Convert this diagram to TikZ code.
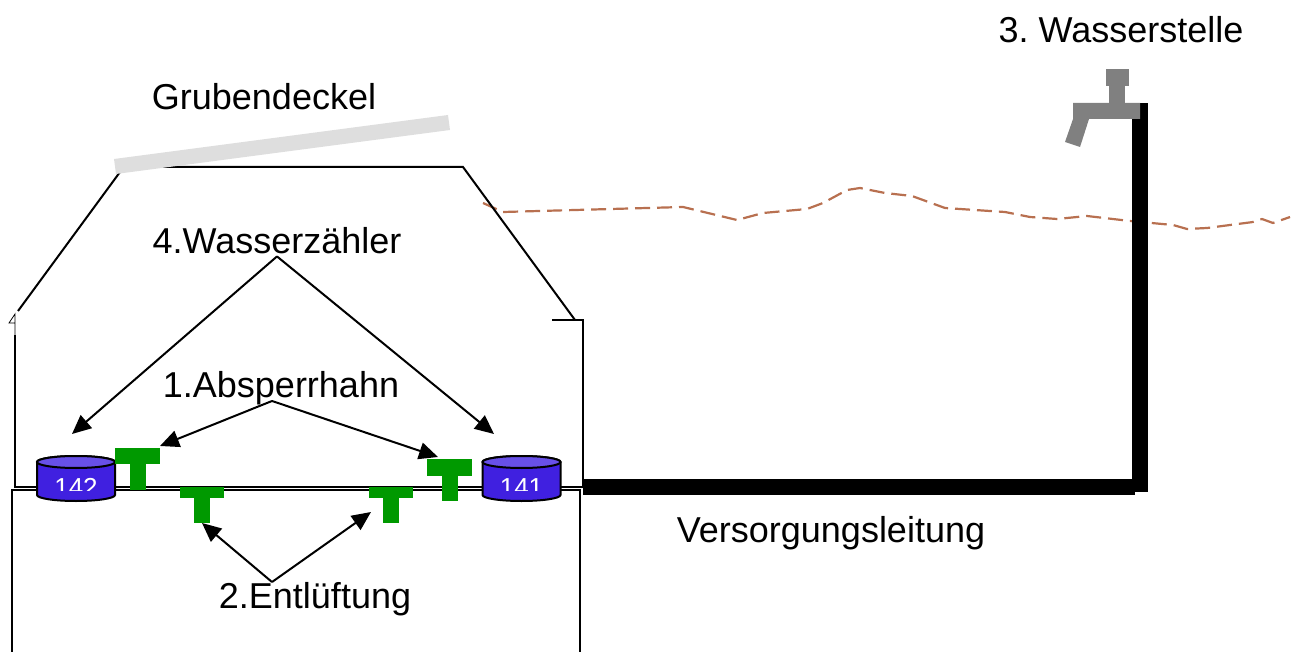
\documentclass[tikz,border=0pt]{standalone}
\usepackage{fontspec}
\setmainfont{Liberation Sans}
\usepackage{xcolor}
\usetikzlibrary{positioning,arrows.meta}
\definecolor{hahngreen}{HTML}{009900}
\definecolor{zaehlerblue}{HTML}{4020E0}
\definecolor{zaehlertop}{HTML}{6850E8}
\definecolor{erdbrown}{HTML}{B87050}
\definecolor{tapgray}{HTML}{808080}
\frenchspacing
\newcommand{\zaehlerdose}[1]{
	\draw[line width=2pt, fill=zaehlerblue] (#1-39,462)--(#1-39,495) arc[start angle=180, end angle=360, x radius=39pt, y radius=6pt]--(#1+39,462) arc[start angle=0, end angle=180, x radius=39pt, y radius=6pt]--cycle;
	\draw[line width=2pt, fill=zaehlertop] (#1,462) ellipse[x radius=39pt, y radius=6pt];
}
\tikzset{
	lab/.style={inner sep=0pt, font=\fontsize{36}{40}\selectfont},
	wall/.style={line width=2pt},
	pointer/.style={line width=2pt, -{Stealth[length=19pt,width=17pt,inset=0pt]}},
	bar/.style={fill=hahngreen, inner sep=0pt, outer sep=0pt},
	zahl/.style={text=white, inner sep=0pt, anchor=base, font=\fontsize{26}{28}\selectfont},
}
\begin{document}
\begin{tikzpicture}[x=1pt,y=-1pt]
		\useasboundingbox (0,0) rectangle (1301,652);
		\draw[erdbrown, line width=2.2pt, dash pattern=on 15pt off 7pt] (483,203)--(503,212)--(683,207)--(737,220)--(763,213)--(807,209)--(823,203)--(847,190)--(860,188)--(885,193)--(912,196)--(945,208)--(1005,212)--(1030,217)--(1057,219)--(1087,216)--(1130,221)--(1173,225)--(1187,229)--(1207,228)--(1253,222)--(1262,219)--(1273,223)--(1290,217);
		
		\draw[wall] (18,311)--(120,172);
		\draw[wall] (120,167)--(463,167)--(575,320);
		\draw[wall] (552,320)--(583,320)--(583,487)--(15,487)--(15,335);
		\draw[line width=0.8pt] (15,335)--(15,314)--(9,323)--(15,323);
		\draw[wall] (12,652)--(12,490)--(580,490)--(580,652);
		\fill[black!13] (114,159)--(448,115)--(450,130)--(116,174)--cycle;
		
		\fill[black] (583,479) rectangle (1135,495);
		\fill[black] (1132,103) rectangle (1148,492);
		\fill[tapgray] (1106,69) rectangle (1129,86);
		\fill[tapgray] (1109,86) rectangle (1125,103);
		\fill[tapgray] (1073,103)--(1140,103)--(1140,119)--(1089,119)--(1080,147)--(1065,142)--(1073,119)--cycle;
		
		\zaehlerdose{76}
		\zaehlerdose{521.5}
		\begin{scope}
			\clip (37,470) rectangle (560,490);
			\node[zahl] (wz142t) at (76,496) {142};
			\node[zahl] (wz141t) at (521.5,496) {141};
		\end{scope}
		
		\node[bar, minimum width=45pt, minimum height=16pt] (ah1) at (137.5,456) {};
		\node[bar, minimum width=16pt, minimum height=26pt, below=0pt of ah1] (ah1s) {};
		\node[bar, minimum width=45pt, minimum height=17pt] (ah2) at (449.5,467.5) {};
		\node[bar, minimum width=16pt, minimum height=25pt, below=0pt of ah2] (ah2s) {};
		\node[bar, minimum width=44pt, minimum height=11pt] (ent1) at (202,492.5) {};
		\node[bar, minimum width=16pt, minimum height=25pt, below=0pt of ent1] (ent1s) {};
		\node[bar, minimum width=44pt, minimum height=11pt] (ent2) at (391,492.5) {};
		\node[bar, minimum width=16pt, minimum height=25pt, below=0pt of ent2] (ent2s) {};
		
		\node[lab] (deckel) at (264,97) {Grubendeckel};
		\node[lab] (stelle) at (1121,30) {3. Wasserstelle};
		\node[lab] (wzt) at (277,241) {4.Wasserzähler};
		\node[lab] (aht) at (281,388) {1.Absperrhahn};
		\node[lab] (entt) at (315,599) {2.Entlüftung};
		\node[lab] (leitung) at (831,533) {Versorgungsleitung};
		
		\coordinate (wz142p) at (72,434);
		\coordinate (wz141p) at (494,434);
		\coordinate (ah1p) at (160,446);
		\coordinate (ah2p) at (438,457);
		\draw[pointer] ([yshift=-2pt]wzt.south)--(wz142p);
		\draw[pointer] ([yshift=-2pt]wzt.south)--(wz141p);
		\draw[pointer] ([xshift=-9pt,yshift=4pt]aht.south)--(ah1p);
		\draw[pointer] ([xshift=-9pt,yshift=4pt]aht.south)--(ah2p);
		\draw[pointer] ([xshift=-43pt]entt.north)--(ent1s.south);
		\draw[pointer] ([xshift=-43pt]entt.north)--([xshift=-20pt,yshift=11pt]ent2s.south);
	\end{tikzpicture}
\end{document}
